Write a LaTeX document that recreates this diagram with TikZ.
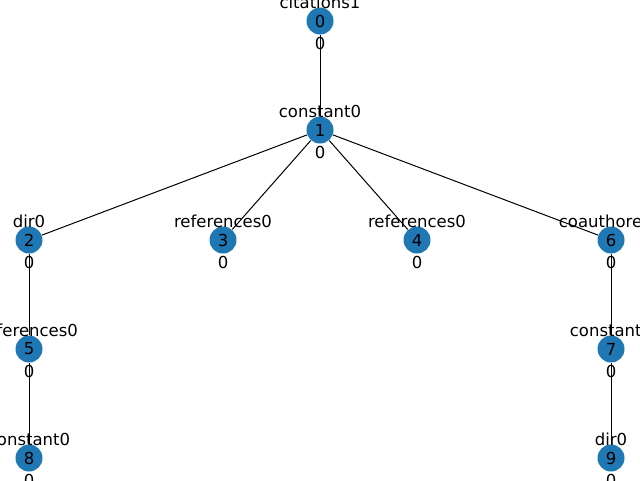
\documentclass[tikz,border=0pt]{standalone}
\usepackage{fontspec}
\setmainfont{DejaVu Sans}
\usepackage{tikz}
\definecolor{nodeblue}{HTML}{1F77B4}
\tikzset{vertex/.style={circle, fill=nodeblue, minimum size=27pt, inner sep=0pt},
  txt/.style={inner sep=0pt, font=\fontsize{16.5}{18}\selectfont}}

\begin{document}
\begin{tikzpicture}[x=1pt, y=-1pt, line width=1pt]
\useasboundingbox (0,0) rectangle (640,480);
\clip (0,0) rectangle (640,480);
\node[vertex] (v0) at (320,21)  {};
\node[vertex] (v1) at (320,130) {};
\node[vertex] (v2) at (29,240)  {};
\node[vertex] (v3) at (223,240) {};
\node[vertex] (v4) at (417,240) {};
\node[vertex] (v6) at (611,240) {};
\node[vertex] (v5) at (29,349)  {};
\node[vertex] (v7) at (611,349) {};
\node[vertex] (v8) at (29,458)  {};
\node[vertex] (v9) at (611,458) {};

\draw (v0) to (v1);
\draw (v1) to (v2);
\draw (v1) to (v3);
\draw (v1) to (v4);
\draw (v1) to (v6);
\draw (v2) to (v5);
\draw (v5) to (v8);
\draw (v6) to (v7);
\draw (v7) to (v9);

% ids
\node[txt] (i0) at (v0) {0};
\node[txt] (i1) at (v1) {1};
\node[txt] (i2) at (v2) {2};
\node[txt] (i3) at (v3) {3};
\node[txt] (i4) at (v4) {4};
\node[txt] (i5) at (v5) {5};
\node[txt] (i6) at (v6) {6};
\node[txt] (i7) at (v7) {7};
\node[txt] (i8) at (v8) {8};
\node[txt] (i9) at (v9) {9};

% names
\node[txt] (t0) at (320,2)   {citations1};
\node[txt] (t1) at (320,111) {constant0};
\node[txt] (t2) at (29,221)  {dir0};
\node[txt] (t3) at (223,221) {references0};
\node[txt] (t4) at (417,221) {references0};
\node[txt] (t6) at (611,221) {coauthored0};
\node[txt] (t5) at (29,330)  {references0};
\node[txt] (t7) at (611,330) {constant0};
\node[txt] (t8) at (29,439)  {constant0};
\node[txt] (t9) at (611,439) {dir0};

% values
\node[txt] (b0) at (320,43)  {0};
\node[txt] (b1) at (320,152) {0};
\node[txt] (b2) at (29,262)  {0};
\node[txt] (b3) at (223,262) {0};
\node[txt] (b4) at (417,262) {0};
\node[txt] (b6) at (611,262) {0};
\node[txt] (b5) at (29,371)  {0};
\node[txt] (b7) at (611,371) {0};
\node[txt] (b8) at (29,480)  {0};
\node[txt] (b9) at (611,480) {0};
\end{tikzpicture}
\end{document}
